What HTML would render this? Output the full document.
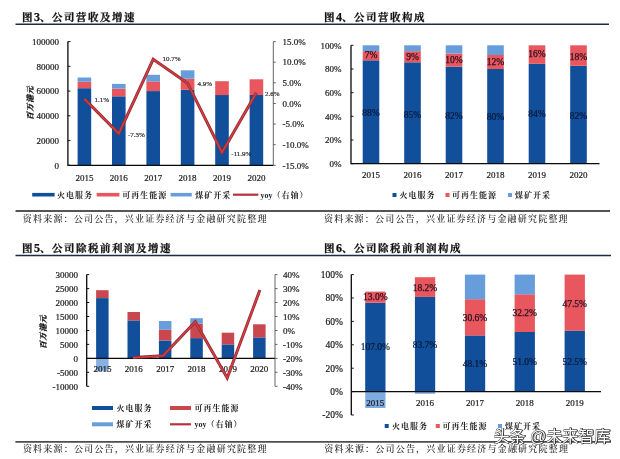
<!DOCTYPE html><html><head><meta charset="utf-8"><title>charts</title>
<style>html,body{margin:0;padding:0;background:#fff}svg{display:block}text{font-family:"Liberation Serif","Noto Serif CJK SC",serif;fill:#222}.t{font-weight:bold;font-size:10.5px;fill:#111;letter-spacing:1.5px;stroke:#111;stroke-width:0.25px}.t tspan{font-size:12px;letter-spacing:0}.ax{font-size:9px;fill:#1a1a1a;stroke:#1a1a1a;stroke-width:0.2px}.lg{font-size:8px;font-weight:bold;fill:#222;letter-spacing:1px}.src{font-size:9px;font-weight:500;fill:#1a1a1a;letter-spacing:1.2px}.dl{font-size:7px;fill:#2a2a2a;stroke:#2a2a2a;stroke-width:0.2px}.yl{font-size:7.8px;font-weight:900;font-style:italic;fill:#111;letter-spacing:0.8px;stroke:#111;stroke-width:0.25px}.dl2{font-size:9.5px;fill:#2a1020;stroke:#2a1020;stroke-width:0.25px}.dk{fill:#06183a;stroke:#06183a;stroke-width:0.2px}.wm{font-family:"Liberation Sans","Noto Sans CJK SC",sans-serif;font-size:16px;fill:#fff;stroke:#333;stroke-width:0.8px;paint-order:stroke}</style></head><body>
<svg width="620" height="459" viewBox="0 0 620 459">
<rect width="620" height="459" fill="#fff"/>
<line x1="15.5" y1="24.3" x2="609" y2="24.3" stroke="#1f2a44" stroke-width="1.4"/>
<line x1="15.5" y1="211" x2="610" y2="211" stroke="#1c1c1c" stroke-width="1.4"/>
<line x1="15.5" y1="255.5" x2="611" y2="255.5" stroke="#1f2a44" stroke-width="1.4"/>
<line x1="15.4" y1="441.9" x2="611" y2="441.9" stroke="#4c4c56" stroke-width="1.6"/>
<text class="t" x="22" y="21">图<tspan>3</tspan>、公司营收及增速</text>
<rect x="77.6" y="88.2" width="13.6" height="77.1" fill="#114f9b"/>
<rect x="77.6" y="81.8" width="13.6" height="6.4" fill="#e8565e"/>
<rect x="77.6" y="77.5" width="13.6" height="4.3" fill="#689ddb"/>
<rect x="112.0" y="96.3" width="13.6" height="69.0" fill="#114f9b"/>
<rect x="112.0" y="88.6" width="13.6" height="7.7" fill="#e8565e"/>
<rect x="112.0" y="83.9" width="13.6" height="4.7" fill="#689ddb"/>
<rect x="146.4" y="91.1" width="13.6" height="74.2" fill="#114f9b"/>
<rect x="146.4" y="81.4" width="13.6" height="9.6" fill="#e8565e"/>
<rect x="146.4" y="74.8" width="13.6" height="6.7" fill="#689ddb"/>
<rect x="180.8" y="89.8" width="13.6" height="75.5" fill="#114f9b"/>
<rect x="180.8" y="78.7" width="13.6" height="11.1" fill="#e8565e"/>
<rect x="180.8" y="70.3" width="13.6" height="8.4" fill="#689ddb"/>
<rect x="215.2" y="95.0" width="13.6" height="70.3" fill="#114f9b"/>
<rect x="215.2" y="81.2" width="13.6" height="13.9" fill="#e8565e"/>
<rect x="249.6" y="95.0" width="13.6" height="70.3" fill="#114f9b"/>
<rect x="249.6" y="79.3" width="13.6" height="15.7" fill="#e8565e"/>
<path d="M67.9 41.6V165.3H273.3" fill="none" stroke="#0a0a0a" stroke-width="1.3"/>
<path d="M273.3 41.6V165.3" fill="none" stroke="#555" stroke-width="0.9"/>
<line x1="67.9" x2="70.4" y1="41.6" y2="41.6" stroke="#111" stroke-width="1"/>
<text class="ax" x="58.9" y="44.8" text-anchor="end">100000</text>
<line x1="67.9" x2="70.4" y1="66.3" y2="66.3" stroke="#111" stroke-width="1"/>
<text class="ax" x="58.9" y="69.5" text-anchor="end">80000</text>
<line x1="67.9" x2="70.4" y1="91.1" y2="91.1" stroke="#111" stroke-width="1"/>
<text class="ax" x="58.9" y="94.3" text-anchor="end">60000</text>
<line x1="67.9" x2="70.4" y1="115.8" y2="115.8" stroke="#111" stroke-width="1"/>
<text class="ax" x="58.9" y="119.0" text-anchor="end">40000</text>
<line x1="67.9" x2="70.4" y1="140.6" y2="140.6" stroke="#111" stroke-width="1"/>
<text class="ax" x="58.9" y="143.8" text-anchor="end">20000</text>
<line x1="67.9" x2="70.4" y1="165.3" y2="165.3" stroke="#111" stroke-width="1"/>
<text class="ax" x="58.9" y="168.5" text-anchor="end">0</text>
<line x1="273.3" x2="275.8" y1="41.6" y2="41.6" stroke="#555" stroke-width="0.9"/>
<text class="ax" x="282.5" y="44.8">15.0%</text>
<line x1="273.3" x2="275.8" y1="62.2" y2="62.2" stroke="#555" stroke-width="0.9"/>
<text class="ax" x="282.5" y="65.4">10.0%</text>
<line x1="273.3" x2="275.8" y1="82.8" y2="82.8" stroke="#555" stroke-width="0.9"/>
<text class="ax" x="282.5" y="86.0">5.0%</text>
<line x1="273.3" x2="275.8" y1="103.5" y2="103.5" stroke="#555" stroke-width="0.9"/>
<text class="ax" x="282.5" y="106.7">0.0%</text>
<line x1="273.3" x2="275.8" y1="124.1" y2="124.1" stroke="#555" stroke-width="0.9"/>
<text class="ax" x="282.5" y="127.3">-5.0%</text>
<line x1="273.3" x2="275.8" y1="144.7" y2="144.7" stroke="#555" stroke-width="0.9"/>
<text class="ax" x="282.5" y="147.9">-10.0%</text>
<line x1="273.3" x2="275.8" y1="165.3" y2="165.3" stroke="#555" stroke-width="0.9"/>
<text class="ax" x="282.5" y="168.5">-15.0%</text>
<text class="ax" x="84.4" y="180.5" text-anchor="middle">2015</text>
<text class="ax" x="118.8" y="180.5" text-anchor="middle">2016</text>
<text class="ax" x="153.2" y="180.5" text-anchor="middle">2017</text>
<text class="ax" x="187.6" y="180.5" text-anchor="middle">2018</text>
<text class="ax" x="222.0" y="180.5" text-anchor="middle">2019</text>
<text class="ax" x="256.4" y="180.5" text-anchor="middle">2020</text>
<polyline fill="none" stroke="#8e3036" stroke-width="3" stroke-linejoin="miter" points="84.4,98.9 118.8,133.6 153.2,59.3 187.6,83.2 222.0,152.5 256.4,92.7"/>
<polyline fill="none" stroke="#dc3a42" stroke-width="1.4" stroke-linejoin="miter" points="84.4,98.9 118.8,133.6 153.2,59.3 187.6,83.2 222.0,152.5 256.4,92.7"/>
<text class="dl" x="94.5" y="101.5">1.1%</text>
<text class="dl" x="128" y="136.5">-7.3%</text>
<text class="dl" x="162.5" y="61.3">10.7%</text>
<text class="dl" x="197.5" y="85.5">4.9%</text>
<text class="dl" x="231.3" y="155.7">-11.9%</text>
<text class="dl" x="265" y="96">2.6%</text>
<text class="yl" transform="translate(33,120) rotate(-90)">百万港元</text>
<rect x="32.2" y="192.89999999999998" width="22.4" height="3.6" fill="#114f9b"/><text class="lg" x="57" y="197.7">火电服务</text>
<rect x="96.7" y="192.89999999999998" width="22.7" height="3.6" fill="#e8565e"/><text class="lg" x="122.2" y="197.7">可再生能源</text>
<rect x="170.6" y="192.89999999999998" width="21.2" height="3.6" fill="#689ddb"/><text class="lg" x="195.2" y="197.7">煤矿开采</text>
<line x1="233" x2="258.4" y1="194.7" y2="194.7" stroke="#b5333b" stroke-width="2.2"/><text class="lg" x="260.5" y="197.7"><tspan style="letter-spacing:0">yoy</tspan>（右轴）</text>
<text class="src" x="22.8" y="221.5">资料来源：公司公告，兴业证券经济与金融研究院整理</text>
<text class="t" x="324" y="21">图<tspan>4</tspan>、公司营收构成</text>
<rect x="362.7" y="60.3" width="16.6" height="103.4" fill="#114f9b"/>
<rect x="362.7" y="51.2" width="16.6" height="9.1" fill="#e8565e"/>
<rect x="362.7" y="45.3" width="16.6" height="5.9" fill="#689ddb"/>
<text class="dl2" x="371.0" y="58.2" text-anchor="middle">7%</text>
<text class="dl2 dk" x="371.0" y="116.4" text-anchor="middle">88%</text>
<rect x="404.2" y="62.3" width="16.6" height="101.4" fill="#114f9b"/>
<rect x="404.2" y="51.2" width="16.6" height="11.1" fill="#e8565e"/>
<rect x="404.2" y="45.3" width="16.6" height="5.9" fill="#689ddb"/>
<text class="dl2" x="412.5" y="59.6" text-anchor="middle">9%</text>
<text class="dl2 dk" x="412.5" y="118.4" text-anchor="middle">85%</text>
<rect x="445.7" y="66.6" width="16.6" height="97.1" fill="#114f9b"/>
<rect x="445.7" y="53.5" width="16.6" height="13.1" fill="#e8565e"/>
<rect x="445.7" y="45.3" width="16.6" height="8.2" fill="#689ddb"/>
<text class="dl2" x="454.0" y="63.2" text-anchor="middle">10%</text>
<text class="dl2 dk" x="454.0" y="119.2" text-anchor="middle">82%</text>
<rect x="487.2" y="69.0" width="16.6" height="94.7" fill="#114f9b"/>
<rect x="487.2" y="55.0" width="16.6" height="14.0" fill="#e8565e"/>
<rect x="487.2" y="45.3" width="16.6" height="9.7" fill="#689ddb"/>
<text class="dl2" x="495.5" y="65.0" text-anchor="middle">12%</text>
<text class="dl2 dk" x="495.5" y="119.7" text-anchor="middle">80%</text>
<rect x="528.7" y="63.8" width="16.6" height="99.9" fill="#114f9b"/>
<rect x="528.7" y="45.3" width="16.6" height="18.5" fill="#e8565e"/>
<text class="dl2" x="537.0" y="57.3" text-anchor="middle">16%</text>
<text class="dl2 dk" x="537.0" y="117.4" text-anchor="middle">84%</text>
<rect x="570.2" y="65.8" width="16.6" height="97.9" fill="#114f9b"/>
<rect x="570.2" y="45.3" width="16.6" height="20.5" fill="#e8565e"/>
<text class="dl2" x="578.5" y="59.9" text-anchor="middle">18%</text>
<text class="dl2 dk" x="578.5" y="119.2" text-anchor="middle">82%</text>
<path d="M351 45.3V163.7H599.5" fill="none" stroke="#0a0a0a" stroke-width="1.3"/>
<line x1="351" x2="353.5" y1="45.3" y2="45.3" stroke="#111" stroke-width="1"/>
<text class="ax" x="341.6" y="48.5" text-anchor="end">100%</text>
<line x1="351" x2="353.5" y1="69.0" y2="69.0" stroke="#111" stroke-width="1"/>
<text class="ax" x="341.6" y="72.2" text-anchor="end">80%</text>
<line x1="351" x2="353.5" y1="92.7" y2="92.7" stroke="#111" stroke-width="1"/>
<text class="ax" x="341.6" y="95.9" text-anchor="end">60%</text>
<line x1="351" x2="353.5" y1="116.3" y2="116.3" stroke="#111" stroke-width="1"/>
<text class="ax" x="341.6" y="119.5" text-anchor="end">40%</text>
<line x1="351" x2="353.5" y1="140.0" y2="140.0" stroke="#111" stroke-width="1"/>
<text class="ax" x="341.6" y="143.2" text-anchor="end">20%</text>
<line x1="351" x2="353.5" y1="163.7" y2="163.7" stroke="#111" stroke-width="1"/>
<text class="ax" x="341.6" y="166.9" text-anchor="end">0%</text>
<text class="ax" x="371.0" y="177.5" text-anchor="middle">2015</text>
<text class="ax" x="412.5" y="177.5" text-anchor="middle">2016</text>
<text class="ax" x="454.0" y="177.5" text-anchor="middle">2017</text>
<text class="ax" x="495.5" y="177.5" text-anchor="middle">2018</text>
<text class="ax" x="537.0" y="177.5" text-anchor="middle">2019</text>
<text class="ax" x="578.5" y="177.5" text-anchor="middle">2020</text>
<rect x="392.5" y="193" width="4" height="4" fill="#114f9b"/><text class="lg" x="399.5" y="198">火电服务</text>
<rect x="445.5" y="193" width="4" height="4" fill="#e8565e"/><text class="lg" x="452" y="198">可再生能源</text>
<rect x="508" y="193" width="4" height="4" fill="#689ddb"/><text class="lg" x="515" y="198">煤矿开采</text>
<text class="src" x="324" y="221.5">资料来源：公司公告，兴业证券经济与金融研究院整理</text>
<text class="t" x="22" y="252">图<tspan>5</tspan>、公司除税前利润及增速</text>
<rect x="96.1" y="298.1" width="12.5" height="60.3" fill="#114f9b"/>
<rect x="96.1" y="290.2" width="12.5" height="7.8" fill="#c9474f"/>
<rect x="96.1" y="358.4" width="12.5" height="12.8" fill="#689ddb" fill-opacity="0.8"/>
<rect x="127.5" y="320.4" width="12.5" height="38.0" fill="#114f9b"/>
<rect x="127.5" y="312.0" width="12.5" height="8.4" fill="#c9474f"/>
<rect x="158.9" y="340.5" width="12.5" height="17.9" fill="#114f9b"/>
<rect x="158.9" y="329.6" width="12.5" height="10.9" fill="#c9474f"/>
<rect x="158.9" y="321.0" width="12.5" height="8.7" fill="#689ddb"/>
<rect x="190.3" y="338.1" width="12.5" height="20.2" fill="#114f9b"/>
<rect x="190.3" y="323.5" width="12.5" height="14.7" fill="#c9474f"/>
<rect x="190.3" y="318.2" width="12.5" height="5.3" fill="#689ddb"/>
<rect x="221.7" y="344.4" width="12.5" height="14.0" fill="#114f9b"/>
<rect x="221.7" y="332.7" width="12.5" height="11.7" fill="#c9474f"/>
<rect x="253.1" y="337.4" width="12.5" height="20.9" fill="#114f9b"/>
<rect x="253.1" y="324.3" width="12.5" height="13.1" fill="#c9474f"/>
<path d="M86.7 274.6V386.3M86.7 358.4H275" fill="none" stroke="#0a0a0a" stroke-width="1.3"/>
<path d="M275 274.6V386.3" fill="none" stroke="#555" stroke-width="0.9"/>
<line x1="86.7" x2="89.2" y1="274.6" y2="274.6" stroke="#111" stroke-width="1"/>
<text class="ax" x="77.9" y="277.8" text-anchor="end">30000</text>
<line x1="275" x2="277.5" y1="274.6" y2="274.6" stroke="#555" stroke-width="0.9"/>
<text class="ax" x="283" y="277.8">40%</text>
<line x1="86.7" x2="89.2" y1="288.6" y2="288.6" stroke="#111" stroke-width="1"/>
<text class="ax" x="77.9" y="291.8" text-anchor="end">25000</text>
<line x1="275" x2="277.5" y1="288.6" y2="288.6" stroke="#555" stroke-width="0.9"/>
<text class="ax" x="283" y="291.8">30%</text>
<line x1="86.7" x2="89.2" y1="302.5" y2="302.5" stroke="#111" stroke-width="1"/>
<text class="ax" x="77.9" y="305.7" text-anchor="end">20000</text>
<line x1="275" x2="277.5" y1="302.5" y2="302.5" stroke="#555" stroke-width="0.9"/>
<text class="ax" x="283" y="305.7">20%</text>
<line x1="86.7" x2="89.2" y1="316.5" y2="316.5" stroke="#111" stroke-width="1"/>
<text class="ax" x="77.9" y="319.7" text-anchor="end">15000</text>
<line x1="275" x2="277.5" y1="316.5" y2="316.5" stroke="#555" stroke-width="0.9"/>
<text class="ax" x="283" y="319.7">10%</text>
<line x1="86.7" x2="89.2" y1="330.5" y2="330.5" stroke="#111" stroke-width="1"/>
<text class="ax" x="77.9" y="333.7" text-anchor="end">10000</text>
<line x1="275" x2="277.5" y1="330.5" y2="330.5" stroke="#555" stroke-width="0.9"/>
<text class="ax" x="283" y="333.7">0%</text>
<line x1="86.7" x2="89.2" y1="344.4" y2="344.4" stroke="#111" stroke-width="1"/>
<text class="ax" x="77.9" y="347.6" text-anchor="end">5000</text>
<line x1="275" x2="277.5" y1="344.4" y2="344.4" stroke="#555" stroke-width="0.9"/>
<text class="ax" x="283" y="347.6">-10%</text>
<line x1="86.7" x2="89.2" y1="358.4" y2="358.4" stroke="#111" stroke-width="1"/>
<text class="ax" x="77.9" y="361.6" text-anchor="end">0</text>
<line x1="275" x2="277.5" y1="358.4" y2="358.4" stroke="#555" stroke-width="0.9"/>
<text class="ax" x="283" y="361.6">-20%</text>
<line x1="86.7" x2="89.2" y1="372.3" y2="372.3" stroke="#111" stroke-width="1"/>
<text class="ax" x="77.9" y="375.5" text-anchor="end">-5000</text>
<line x1="275" x2="277.5" y1="372.3" y2="372.3" stroke="#555" stroke-width="0.9"/>
<text class="ax" x="283" y="375.5">-30%</text>
<line x1="86.7" x2="89.2" y1="386.3" y2="386.3" stroke="#111" stroke-width="1"/>
<text class="ax" x="77.9" y="389.5" text-anchor="end">-10000</text>
<line x1="275" x2="277.5" y1="386.3" y2="386.3" stroke="#555" stroke-width="0.9"/>
<text class="ax" x="283" y="389.5">-40%</text>
<text class="ax" x="102.4" y="371.8" text-anchor="middle">2015</text>
<text class="ax" x="133.8" y="371.8" text-anchor="middle">2016</text>
<text class="ax" x="165.2" y="371.8" text-anchor="middle">2017</text>
<text class="ax" x="196.5" y="371.8" text-anchor="middle">2018</text>
<text class="ax" x="227.9" y="371.8" text-anchor="middle">2019</text>
<text class="ax" x="259.3" y="371.8" text-anchor="middle">2020</text>
<polyline fill="none" stroke="#8e3036" stroke-width="3" stroke-linejoin="miter" points="133,357.6 163,355.8 195.3,321.8 227.2,378 259.9,290"/>
<polyline fill="none" stroke="#dc3a42" stroke-width="1.4" stroke-linejoin="miter" points="133,357.6 163,355.8 195.3,321.8 227.2,378 259.9,290"/>
<text class="yl" transform="translate(46,349) rotate(-90)">百万港元</text>
<rect x="92" y="406" width="21" height="4" fill="#114f9b"/><text class="lg" x="116.5" y="411">火电服务</text>
<rect x="170" y="406" width="21" height="4" fill="#c9474f"/><text class="lg" x="194.5" y="411">可再生能源</text>
<rect x="92" y="422.3" width="21" height="4" fill="#689ddb"/><text class="lg" x="116.5" y="427.3">煤矿开采</text>
<line x1="170" x2="191" y1="424.3" y2="424.3" stroke="#b5333b" stroke-width="2.2"/><text class="lg" x="194.5" y="427.3"><tspan style="letter-spacing:0">yoy</tspan>（右轴）</text>
<text class="src" x="22.9" y="451.9">资料来源：公司公告，兴业证券经济与金融研究院整理</text>
<text class="t" x="324" y="252">图<tspan>6</tspan>、公司除税前利润构成</text>
<rect x="365.2" y="302.7" width="20.3" height="88.9" fill="#114f9b"/>
<rect x="365.2" y="291.6" width="20.3" height="11.1" fill="#e8565e"/>
<rect x="365.2" y="391.6" width="20.3" height="16.4" fill="#689ddb" fill-opacity="0.85"/>
<text class="dl2" x="375.3" y="300.0" text-anchor="middle">13.0%</text>
<text class="dl2 dk" x="375.3" y="350.2" text-anchor="middle">107.0%</text>
<rect x="414.9" y="296.8" width="20.3" height="94.8" fill="#114f9b"/>
<rect x="414.9" y="277.2" width="20.3" height="19.7" fill="#e8565e"/>
<rect x="414.9" y="391.6" width="20.3" height="2.2" fill="#689ddb" fill-opacity="0.85"/>
<text class="dl2" x="425.0" y="290.9" text-anchor="middle">18.2%</text>
<text class="dl2 dk" x="425.0" y="348.4" text-anchor="middle">83.7%</text>
<rect x="464.9" y="335.4" width="20.3" height="56.2" fill="#114f9b"/>
<rect x="464.9" y="299.2" width="20.3" height="36.3" fill="#e8565e"/>
<rect x="464.9" y="274.6" width="20.3" height="24.6" fill="#689ddb"/>
<text class="dl2" x="475.0" y="320.9" text-anchor="middle">30.6%</text>
<text class="dl2 dk" x="475.0" y="366.7" text-anchor="middle">48.1%</text>
<rect x="514.6" y="331.9" width="20.3" height="59.7" fill="#114f9b"/>
<rect x="514.6" y="294.3" width="20.3" height="37.7" fill="#e8565e"/>
<rect x="514.6" y="274.6" width="20.3" height="19.7" fill="#689ddb"/>
<text class="dl2" x="524.7" y="316.2" text-anchor="middle">32.2%</text>
<text class="dl2 dk" x="524.7" y="365.4" text-anchor="middle">51.0%</text>
<rect x="564.6" y="330.8" width="20.3" height="60.8" fill="#114f9b"/>
<rect x="564.6" y="274.6" width="20.3" height="56.2" fill="#e8565e"/>
<text class="dl2" x="574.7" y="306.6" text-anchor="middle">47.5%</text>
<text class="dl2 dk" x="574.7" y="364.9" text-anchor="middle">52.5%</text>
<path d="M351.3 274.6V415M351.3 391.6H601" fill="none" stroke="#0a0a0a" stroke-width="1.3"/>
<line x1="351.3" x2="353.8" y1="274.6" y2="274.6" stroke="#111" stroke-width="1"/>
<text class="ax" style="font-size:9.5px" x="342.8" y="277.9" text-anchor="end">100%</text>
<line x1="351.3" x2="353.8" y1="298.0" y2="298.0" stroke="#111" stroke-width="1"/>
<text class="ax" style="font-size:9.5px" x="342.8" y="301.3" text-anchor="end">80%</text>
<line x1="351.3" x2="353.8" y1="321.4" y2="321.4" stroke="#111" stroke-width="1"/>
<text class="ax" style="font-size:9.5px" x="342.8" y="324.7" text-anchor="end">60%</text>
<line x1="351.3" x2="353.8" y1="344.8" y2="344.8" stroke="#111" stroke-width="1"/>
<text class="ax" style="font-size:9.5px" x="342.8" y="348.1" text-anchor="end">40%</text>
<line x1="351.3" x2="353.8" y1="368.2" y2="368.2" stroke="#111" stroke-width="1"/>
<text class="ax" style="font-size:9.5px" x="342.8" y="371.5" text-anchor="end">20%</text>
<line x1="351.3" x2="353.8" y1="391.6" y2="391.6" stroke="#111" stroke-width="1"/>
<text class="ax" style="font-size:9.5px" x="342.8" y="394.9" text-anchor="end">0%</text>
<line x1="351.3" x2="353.8" y1="415.0" y2="415.0" stroke="#111" stroke-width="1"/>
<text class="ax" style="font-size:9.5px" x="342.8" y="418.3" text-anchor="end">-20%</text>
<text class="ax" x="375.3" y="405.5" text-anchor="middle">2015</text>
<text class="ax" x="425.0" y="405.5" text-anchor="middle">2016</text>
<text class="ax" x="475.0" y="405.5" text-anchor="middle">2017</text>
<text class="ax" x="524.7" y="405.5" text-anchor="middle">2018</text>
<text class="ax" x="574.7" y="405.5" text-anchor="middle">2019</text>
<rect x="384.7" y="424" width="4" height="4" fill="#114f9b"/><text class="lg" x="392" y="429">火电服务</text>
<rect x="435.8" y="424" width="4" height="4" fill="#e8565e"/><text class="lg" x="442.5" y="429">可再生能源</text>
<rect x="498" y="424" width="4" height="4" fill="#689ddb"/><text class="lg" x="505" y="429">煤矿开采</text>
<text class="src" x="324.3" y="451.9">资料来源：公司公告，兴业证券经济与金融研究院整理</text>
<text class="wm" style="fill:#222;stroke:#222;stroke-width:0.5px" x="494.2" y="442.1">头条 @未来智库</text>
<text class="wm" x="493.5" y="441.5">头条 @未来智库</text>
</svg></body></html>
